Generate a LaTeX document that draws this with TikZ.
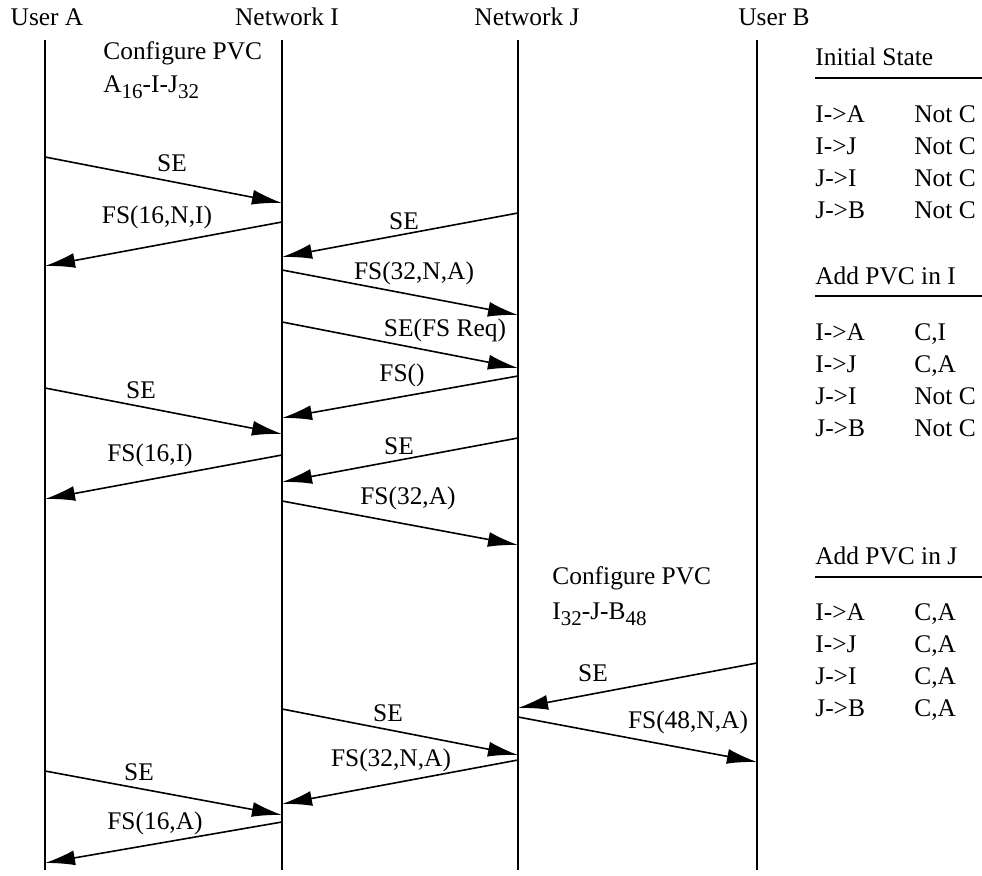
\documentclass[tikz,border=0pt]{standalone}
\usepackage{fontspec}
\setmainfont{Liberation Serif}
\usetikzlibrary{arrows.meta}

\newcommand{\lowsub}[1]{\raisebox{-0.45ex}{\fontsize{10.5}{12}\selectfont #1}}

\begin{document}
\begin{tikzpicture}[
    x=0.5pt, y=-0.5pt,
    font=\fontsize{12.7}{15}\selectfont,
    party/.style={inner sep=0pt},
    lifeline/.style={line width=0.6pt},
    msg/.style={-{Latex[length=15pt,width=7.5pt]}, line width=0.8pt},
    lbl/.style={inner sep=0pt},
    cell/.style={anchor=base west, inner sep=0pt},
    rule/.style={line width=1.3pt}
]
    \useasboundingbox (0,0) rectangle (982,876);

    % Parties
    \node[party] (usera) at (47,17) {User A};
    \node[party] (neti) at (287,17) {Network I};
    \node[party] (netj) at (527,17) {Network J};
    \node[party] (userb) at (774,17) {User B};

    % Lifelines
    \coordinate (a) at (45,40);  \coordinate (a-end) at (45,870);
    \coordinate (i) at (282,40); \coordinate (i-end) at (282,870);
    \coordinate (j) at (518,40); \coordinate (j-end) at (518,870);
    \coordinate (b) at (757,40); \coordinate (b-end) at (757,870);
    \draw[lifeline] (a) -- (a-end);
    \draw[lifeline] (i) -- (i-end);
    \draw[lifeline] (j) -- (j-end);
    \draw[lifeline] (b) -- (b-end);

    % Configuration notes
    \node[cell] (cfgi) at (103,60) {Configure PVC};
    \node[cell] (cfgi-path) at (103,93) {A\lowsub{16}-I-J\lowsub{32}};
    \node[cell] (cfgj) at (552,585) {Configure PVC};
    \node[cell] (cfgj-path) at (552,620) {I\lowsub{32}-J-B\lowsub{48}};

    % Messages
    \draw[msg] (a |- 0,157) -- (i |- 0,203);
    \node[lbl] (m1) at (172,163) {SE};
    \draw[msg] (i |- 0,222) -- (a |- 0,266);
    \node[lbl] (m2) at (157,217) {FS(16,N,I)};
    \draw[msg] (j |- 0,213) -- (i |- 0,257);
    \node[lbl] (m3) at (404,221) {SE};
    \draw[msg] (i |- 0,270) -- (j |- 0,315);
    \node[lbl] (m4) at (414,273) {FS(32,N,A)};
    \draw[msg] (i |- 0,322) -- (j |- 0,368);
    \node[lbl] (m5) at (445,330) {SE(FS Req)};
    \draw[msg] (j |- 0,376) -- (i |- 0,418);
    \node[lbl] (m6) at (402,375) {FS()};
    \draw[msg] (a |- 0,388) -- (i |- 0,434);
    \node[lbl] (m7) at (141,390) {SE};
    \draw[msg] (j |- 0,438) -- (i |- 0,482);
    \node[lbl] (m8) at (399,446) {SE};
    \draw[msg] (i |- 0,455) -- (a |- 0,499);
    \node[lbl] (m9) at (150,455) {FS(16,I)};
    \draw[msg] (i |- 0,501) -- (j |- 0,545);
    \node[lbl] (m10) at (408,498) {FS(32,A)};
    \draw[msg] (b |- 0,663) -- (j |- 0,708);
    \node[lbl] (m11) at (593,673) {SE};
    \draw[msg] (i |- 0,709) -- (j |- 0,755);
    \node[lbl] (m12) at (388,713) {SE};
    \draw[msg] (j |- 0,717) -- (b |- 0,762);
    \node[lbl] (m13) at (688,722) {FS(48,N,A)};
    \draw[msg] (j |- 0,760) -- (i |- 0,804);
    \node[lbl] (m14) at (391,760) {FS(32,N,A)};
    \draw[msg] (a |- 0,771) -- (i |- 0,815);
    \node[lbl] (m15) at (139,772) {SE};
    \draw[msg] (i |- 0,822) -- (a |- 0,863);
    \node[lbl] (m16) at (155,823) {FS(16,A)};

    % State tables
    \node[cell] (init) at (815,66) {Initial State};
    \draw[rule] (815,78) -- (982,78);
    \foreach \lnk/\st [count=\k] in {I->A/Not C, I->J/Not C, J->I/Not C, J->B/Not C} {
        \node[cell] (init-l\k) at ({815},{91+32*\k}) {\lnk};
        \node[cell] (init-s\k) at ({914},{91+32*\k}) {\st};
    }
    \node[cell] (addi) at (815,285) {Add PVC in I};
    \draw[rule] (815,296) -- (982,296);
    \foreach \lnk/\st [count=\k] in {I->A/{C,I}, I->J/{C,A}, J->I/Not C, J->B/Not C} {
        \node[cell] (addi-l\k) at ({815},{309+32*\k}) {\lnk};
        \node[cell] (addi-s\k) at ({914},{309+32*\k}) {\st};
    }
    \node[cell] (addj) at (815,565) {Add PVC in J};
    \draw[rule] (815,577) -- (982,577);
    \foreach \lnk/\st [count=\k] in {I->A/{C,A}, I->J/{C,A}, J->I/{C,A}, J->B/{C,A}} {
        \node[cell] (addj-l\k) at ({815},{589+32*\k}) {\lnk};
        \node[cell] (addj-s\k) at ({914},{589+32*\k}) {\st};
    }
\end{tikzpicture}
\end{document}
